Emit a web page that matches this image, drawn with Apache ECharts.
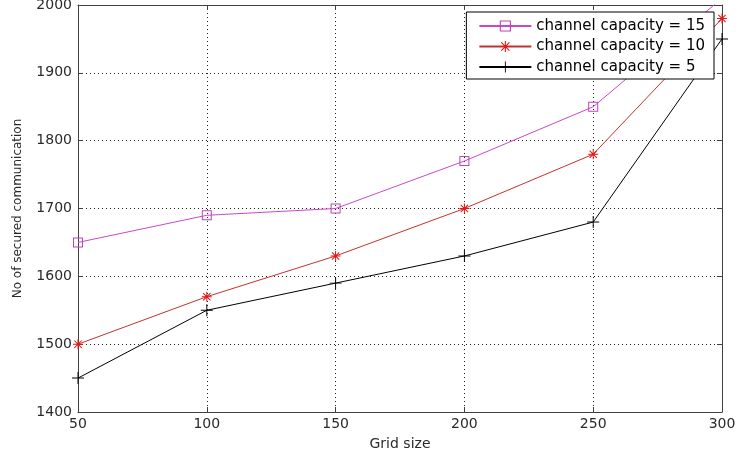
<!DOCTYPE html>
<html lang="en">
<head>
    <meta charset="UTF-8">
    <title>Secured communication vs grid size</title>
    <style>
        html,body{margin:0;padding:0;background:#fff;}
        #main{width:744px;height:452px;}
    </style>
    <script type="text/javascript" src="https://cdn.jsdelivr.net/npm/echarts@6/dist/echarts.min.js"></script>
</head>
<body>
<div id="main"></div>
</body>
<script>
    // data
    let gridSize=[50,100,150,200,250,300];
    let cap15=[1650,1690,1700,1770,1850,2010];
    let cap10=[1500,1570,1630,1700,1780,1980];
    let cap5=[1450,1550,1590,1630,1680,1950];
    let seriesNames=['channel capacity = 15','channel capacity = 10','channel capacity = 5'];

    // matlab-ish markers: hollow square, asterisk, plus
    let squarePath='path://M0,0L20,0L20,20L0,20Z M2,2L2,18L18,18L18,2Z';
    let starPath='path://M0,9L20,9L20,11L0,11Z M9,0L11,0L11,20L9,20Z M2,3.4L3.4,2L18,16.6L16.6,18Z M16.6,2L18,3.4L3.4,18L2,16.6Z';
    let plusPath='path://M0,9.2L20,9.2L20,10.8L0,10.8Z M9.2,0L10.8,0L10.8,20L9.2,20Z';

    let font='DejaVu Sans, sans-serif';
    let axisCol='#404040';
    let txtCol='#2a2a2a';

    function pairs(vals){
        return gridSize.map((x,i)=>[x,vals[i]]);
    }

    let chart=echarts.init(document.getElementById('main'));
    let option={
        animation:false,
        backgroundColor:'#fff',
        grid:{left:78,right:22,top:5,bottom:40,show:false,containLabel:false,outerBoundsMode:'none'},
        legend:{
            orient:'vertical',
            right:30,
            top:12,
            backgroundColor:'#fff',
            borderColor:'#000',
            borderWidth:1,
            padding:[6,9,4,12],
            itemWidth:52,
            itemHeight:14,
            itemGap:4.5,
            textStyle:{fontFamily:font,fontSize:15,lineHeight:16,color:'#000'},
            data:seriesNames
        },
        xAxis:[{
            type:'value',
            min:50,max:300,interval:50,
            name:'Grid size',
            nameLocation:'middle',
            nameGap:25,
            nameTextStyle:{fontFamily:font,fontSize:14,color:txtCol},
            axisLine:{show:true,lineStyle:{color:axisCol}},
            axisTick:{show:true,inside:true,length:5,lineStyle:{color:axisCol}},
            axisLabel:{fontFamily:font,fontSize:14,color:txtCol,margin:5},
            splitLine:{show:true,lineStyle:{color:'#222',type:[1,3]}}
        },{
            type:'value',
            position:'top',
            min:50,max:300,interval:50,
            axisLine:{show:true,onZero:false,lineStyle:{color:axisCol}},
            axisTick:{show:true,inside:true,length:5,lineStyle:{color:axisCol}},
            axisLabel:{show:false},
            splitLine:{show:false}
        }],
        yAxis:[{
            type:'value',
            min:1400,max:2000,interval:100,
            name:'No of secured communication',
            nameLocation:'middle',
            nameGap:54,
            nameTextStyle:{fontFamily:font,fontSize:12,color:txtCol},
            axisLine:{show:true,lineStyle:{color:axisCol}},
            axisTick:{show:true,inside:true,length:5,lineStyle:{color:axisCol}},
            axisLabel:{fontFamily:font,fontSize:14,color:txtCol,margin:6,formatter:v=>String(v)},
            splitLine:{show:true,lineStyle:{color:'#222',type:[1,3]}}
        },{
            type:'value',
            position:'right',
            min:1400,max:2000,interval:100,
            axisLine:{show:true,onZero:false,lineStyle:{color:axisCol}},
            axisTick:{show:true,inside:true,length:5,lineStyle:{color:axisCol}},
            axisLabel:{show:false},
            splitLine:{show:false}
        }],
        series:[{
            name:seriesNames[0],
            type:'line',
            data:pairs(cap15),
            clip:true,
            symbol:squarePath,
            symbolSize:10,
            lineStyle:{color:'#c848c8',width:1},
            itemStyle:{color:'#c040c0'}
        },{
            name:seriesNames[1],
            type:'line',
            data:pairs(cap10),
            clip:true,
            symbol:starPath,
            symbolSize:10,
            lineStyle:{color:'#c83030',width:1},
            itemStyle:{color:'#e01818'}
        },{
            name:seriesNames[2],
            type:'line',
            data:pairs(cap5),
            clip:true,
            symbol:plusPath,
            symbolSize:12,
            lineStyle:{color:'#000',width:1},
            itemStyle:{color:'#000'}
        }]
    };
    chart.setOption(option);
</script>
</html>
